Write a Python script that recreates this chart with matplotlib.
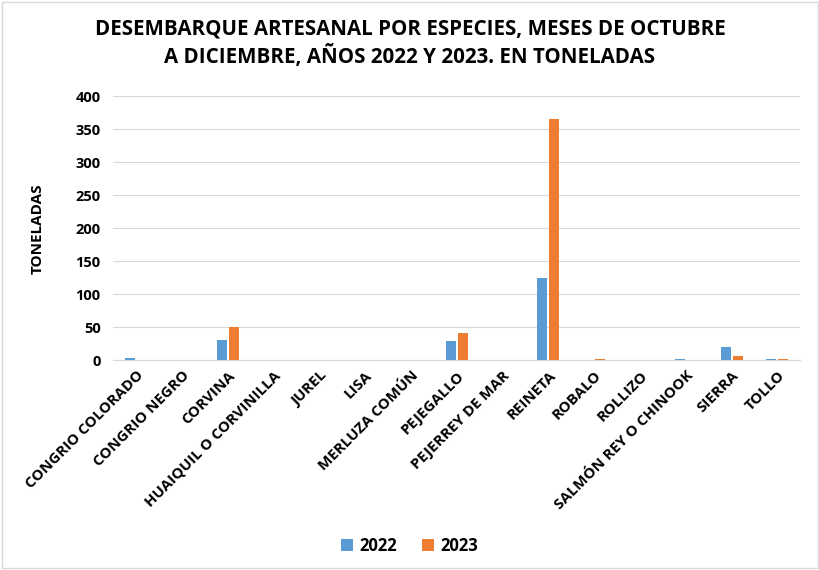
import matplotlib
matplotlib.use('Agg')
import matplotlib.pyplot as plt
import numpy as np

especies = ["CONGRIO COLORADO", "CONGRIO NEGRO", "CORVINA", "HUAIQUIL O CORVINILLA",
            "JUREL", "LISA", "MERLUZA COMÚN", "PEJEGALLO", "PEJERREY DE MAR",
            "REINETA", "ROBALO", "ROLLIZO", "SALMÓN REY O CHINOOK", "SIERRA", "TOLLO"]
t2022 = [4.0, 0.2, 30.0, 0.1, 0.0, 0.1, 0.3, 29.0, 0.2, 125.0, 0.5, 0.3, 1.5, 20.0, 1.5]
t2023 = [0.3, 0.1, 50.0, 0.6, 0.0, 0.2, 0.2, 41.0, 0.1, 366.0, 1.5, 0.1, 0.3, 6.0, 1.5]
anios = ["2022", "2023"]
colores = ["#5B9BD5", "#ED7D31"]

plt.rcParams['font.family'] = ['Open Sans', 'DejaVu Sans']
plt.rcParams['font.weight'] = 'bold'

fig = plt.figure(figsize=(8.2, 5.7), dpi=100)
ax = fig.add_axes([0.138, 0.368, 0.838, 0.463])

x = np.arange(len(especies))
w = 0.22
ax.bar(x - w/2 - 0.02, t2022, w, color=colores[0], label=anios[0], zorder=3)
ax.bar(x + w/2 + 0.02, t2023, w, color=colores[1], label=anios[1], zorder=3)

ax.set_xlim(-0.5, len(especies) - 0.5)
ax.set_ylim(0, 400)
ax.set_yticks(range(0, 401, 50))
ax.grid(axis='y', color='#d9d9d9', linewidth=0.8, zorder=0)
for s in ['top', 'right', 'left']:
    ax.spines[s].set_visible(False)
ax.spines['bottom'].set_color('#d9d9d9')
ax.tick_params(axis='both', length=0, labelsize=10.5)
ax.tick_params(axis='y', pad=9)
ax.tick_params(axis='x', pad=6)
ax.set_xticks(x)
ax.set_xticklabels(especies, rotation=45, ha='right', rotation_mode='anchor', fontsize=10.8, fontweight='bold')
for lbl in ax.get_yticklabels():
    lbl.set_fontweight('bold')
ax.set_ylabel("TONELADAS", fontsize=11, fontweight='bold', labelpad=22)

fig.suptitle("DESEMBARQUE ARTESANAL POR ESPECIES, MESES DE OCTUBRE\nA DICIEMBRE, AÑOS 2022 Y 2023. EN TONELADAS",
             y=0.968, fontsize=14.8, fontweight='bold', linespacing=1.3)

fig.legend(loc='lower center', bbox_to_anchor=(0.5, 0.0), ncol=2, frameon=False,
           prop={'size': 12, 'weight': 'bold'}, handlelength=0.7, handleheight=0.7,
           columnspacing=1.5, handletextpad=0.4)

fig.patches.append(plt.Rectangle((0.003, 0.003), 0.994, 0.994, transform=fig.transFigure,
                                 fill=False, edgecolor='#d9d9d9', linewidth=1))

fig.savefig('out.png', dpi=100)
